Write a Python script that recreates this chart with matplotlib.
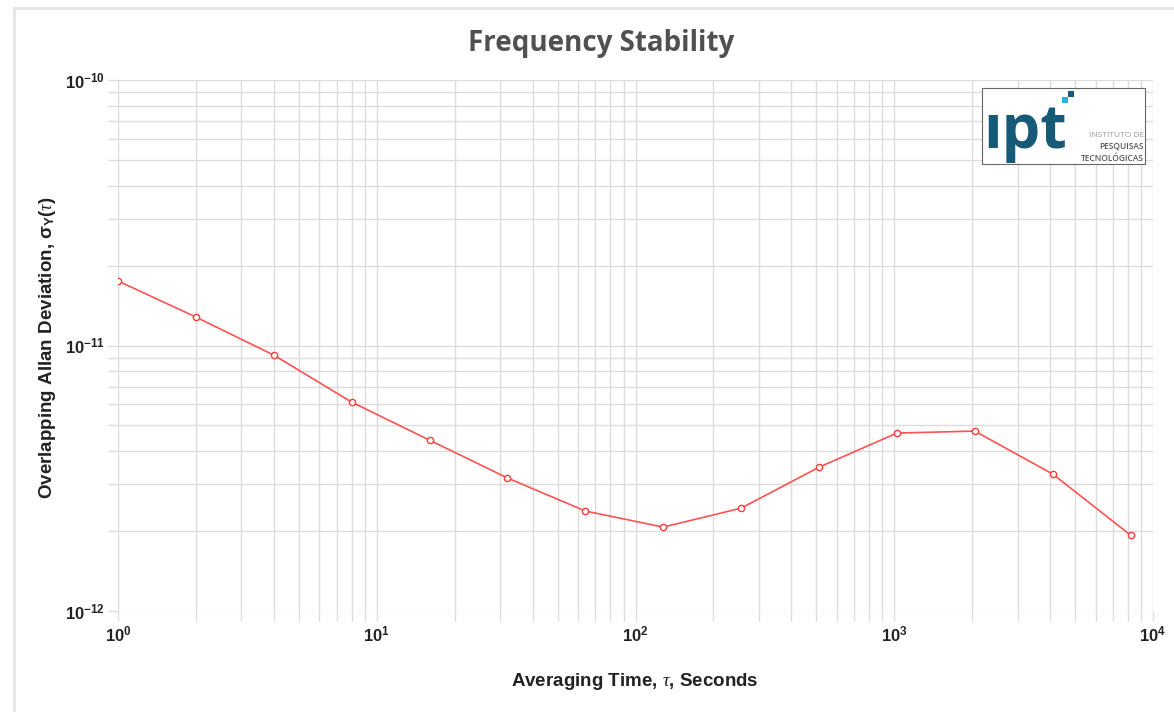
import matplotlib
matplotlib.use('Agg')
import matplotlib.pyplot as plt
from matplotlib.patches import Rectangle
from matplotlib.lines import Line2D
from matplotlib.ticker import FixedLocator, NullFormatter

plt.rcParams['mathtext.fontset'] = 'custom'
plt.rcParams['mathtext.rm'] = 'Liberation Sans'
plt.rcParams['mathtext.bf'] = 'Liberation Sans:bold'
plt.rcParams['mathtext.it'] = 'Liberation Serif:italic'

# averaging times (s) and overlapping Allan deviation
tau = [1, 2, 4, 8, 16, 32, 64, 128, 256, 512, 1024, 2048, 4096, 8192]
adev = [1.75e-11, 1.28e-11, 9.2e-12, 6.12e-12, 4.40e-12, 3.17e-12, 2.38e-12,
        2.07e-12, 2.44e-12, 3.48e-12, 4.68e-12, 4.76e-12, 3.28e-12, 1.93e-12]

xmajor = [1, 10, 100, 1000, 10000]
xlabels = [r'$\mathbf{10^{0}}$', r'$\mathbf{10^{1}}$', r'$\mathbf{10^{2}}$',
           r'$\mathbf{10^{3}}$', r'$\mathbf{10^{4}}$']
ymajor = [1e-12, 1e-11, 1e-10]
ylabels = [r'$\mathbf{10^{-12}}$', r'$\mathbf{10^{-11}}$', r'$\mathbf{10^{-10}}$']

W, H = 1174, 712
fig = plt.figure(figsize=(W / 100, H / 100), dpi=100)


def fx(px):
    return px / W


def fy(py):
    return 1 - py / H


ax = fig.add_axes([fx(118), fy(611), (1153 - 118) / W, (611 - 80) / H])
ax.plot(tau, adev, color='#ff5252', lw=1.2, marker='o', ms=4.5,
        mfc='white', mec='#ff3b3b', mew=1.0, zorder=3)
ax.set_xscale('log')
ax.set_yscale('log')
ax.set_xlim(1, 1e4)
ax.set_ylim(1e-12, 1e-10)

ax.xaxis.set_major_locator(FixedLocator(xmajor))
ax.set_xticklabels(xlabels)
ax.yaxis.set_major_locator(FixedLocator(ymajor))
ax.set_yticklabels(ylabels)
ax.xaxis.set_minor_formatter(NullFormatter())
ax.yaxis.set_minor_formatter(NullFormatter())

ax.set_axisbelow(True)
ax.grid(which='both', color='#dcdcdc', lw=1)
for s in ax.spines.values():
    s.set_visible(False)
ax.tick_params(which='both', length=7.5, width=1, color='#dcdcdc')
ax.tick_params(axis='both', labelsize=12, labelcolor='#222222')
ax.tick_params(axis='x', pad=3)
ax.tick_params(axis='y', pad=2)

fig.text(fx(601), fy(43), 'Frequency Stability', ha='center', va='center',
         fontsize=20, fontweight='bold', color='#505050', family='Open Sans')
fig.text(fx(635), fy(681), r'Averaging Time, $\tau$, Seconds', ha='center',
         va='center', fontsize=13.5, fontweight='bold', color='#222222',
         family='Liberation Sans')
fig.text(fx(47), fy(348), r'Overlapping Allan Deviation, σ$_\mathbf{Y}$($\tau$)',
         ha='center', va='center', rotation=90, fontsize=13.5,
         fontweight='bold', color='#222222', family='Liberation Sans')

# card border
fig.add_artist(Line2D([fx(14), fx(1174)], [fy(8), fy(8)], color='#e6e6e6', lw=2))
fig.add_artist(Line2D([fx(14), fx(14)], [fy(8), fy(712)], color='#e6e6e6', lw=2))

# logo
fig.add_artist(Rectangle((fx(982), fy(164)), (1145 - 982) / W, (164 - 88) / H,
                         transform=fig.transFigure, facecolor='white',
                         edgecolor='#666666', lw=0.8, zorder=5))
fig.text(fx(983), fy(148), 'ıpt', ha='left', va='baseline', fontsize=44,
         fontweight='bold', color='#175a78', family='Open Sans', zorder=6)
fig.add_artist(Rectangle((fx(1068), fy(97)), 6 / W, 6 / H, transform=fig.transFigure,
                         facecolor='#175a78', edgecolor='none', zorder=6))
fig.add_artist(Rectangle((fx(1062), fy(103)), 6 / W, 6 / H, transform=fig.transFigure,
                         facecolor='#2fb3dc', edgecolor='none', zorder=6))
fig.text(fx(1144), fy(137), 'INSTITUTO DE', ha='right', va='baseline',
         fontsize=6, color='#999999', family='Open Sans', zorder=6)
fig.text(fx(1144), fy(149), 'PESQUISAS', ha='right', va='baseline',
         fontsize=6, fontweight='semibold', color='#555555', family='Open Sans', zorder=6)
fig.text(fx(1144), fy(161), 'TECNOLÓGICAS', ha='right', va='baseline',
         fontsize=6, fontweight='semibold', color='#555555', family='Open Sans', zorder=6)

fig.savefig('out.png', dpi=100, facecolor='white')
